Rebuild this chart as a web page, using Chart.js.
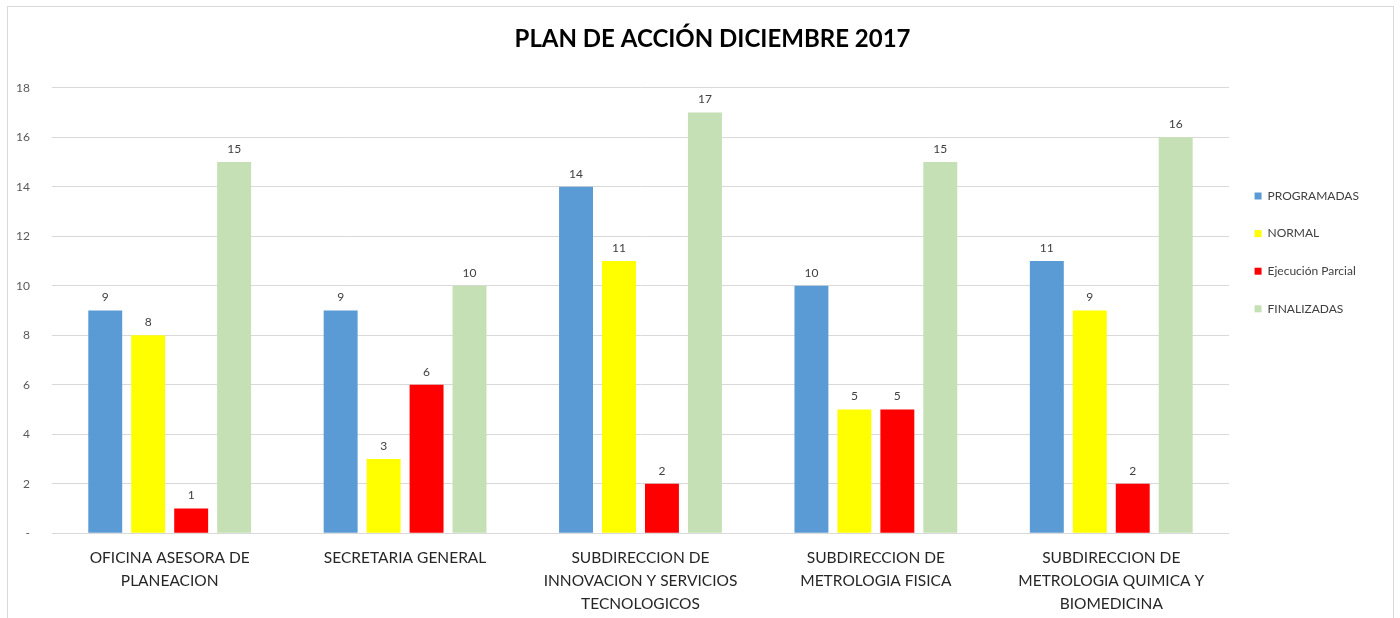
<!DOCTYPE html>
<html>
<head>
<meta charset="utf-8">
<script src="https://cdn.jsdelivr.net/npm/chart.js@4.4.0/dist/chart.umd.min.js"></script>
<style>
  html, body { margin: 0; padding: 0; background: #fff; }
  body { width: 1400px; height: 618px; overflow: hidden; position: relative; }
  #frame {
    position: absolute; left: 7px; top: 6px; width: 1385px; height: 624px;
    border: 1px solid #d9d9d9; background: #fff;
  }
  #chart { display: block; }
</style>
</head>
<body>
<div id="frame"><canvas id="chart" width="1385" height="621"></canvas></div>
<script>
const categorias = [
  ['OFICINA ASESORA DE', 'PLANEACION'],
  ['SECRETARIA GENERAL'],
  ['SUBDIRECCION DE', 'INNOVACION Y SERVICIOS', 'TECNOLOGICOS'],
  ['SUBDIRECCION DE', 'METROLOGIA FISICA'],
  ['SUBDIRECCION DE', 'METROLOGIA QUIMICA Y', 'BIOMEDICINA']
];
const programadas = [9, 9, 14, 10, 11];
const normal = [8, 3, 11, 5, 9];
const ejecucionParcial = [1, 6, 2, 5, 2];
const finalizadas = [15, 10, 17, 15, 16];
const ticksY = [0, 2, 4, 6, 8, 10, 12, 14, 16, 18];

const fuente = 'Lato, "Open Sans", sans-serif';

// etiquetas de valor encima de cada barra
const etiquetasValor = {
  id: 'etiquetasValor',
  afterDatasetsDraw(chart) {
    const ctx = chart.ctx;
    ctx.save();
    ctx.font = '12px ' + fuente;
    ctx.fillStyle = '#404040';
    ctx.textAlign = 'center';
    ctx.textBaseline = 'bottom';
    chart.data.datasets.forEach((ds, i) => {
      chart.getDatasetMeta(i).data.forEach((bar, j) => {
        ctx.fillText(ds.data[j], bar.x, bar.y - 7);
      });
    });
    ctx.restore();
  }
};

// el título de Excel queda algo a la derecha del centro
const moverTitulo = {
  id: 'moverTitulo',
  afterLayout(chart) {
    chart.titleBlock.left += 20;
    chart.titleBlock.right += 20;
  }
};

new Chart(document.getElementById('chart'), {
  type: 'bar',
  data: {
    labels: categorias,
    datasets: [
      { label: 'PROGRAMADAS', data: programadas, backgroundColor: '#5B9BD5' },
      { label: 'NORMAL', data: normal, backgroundColor: '#FFFF00' },
      { label: 'Ejecución Parcial', data: ejecucionParcial, backgroundColor: '#FF0000' },
      { label: 'FINALIZADAS', data: finalizadas, backgroundColor: '#C5E0B4' }
    ]
  },
  options: {
    responsive: false,
    animation: false,
    categoryPercentage: 0.73,
    barPercentage: 0.79,
    layout: { padding: { left: 8, right: 24, top: 8, bottom: 0 } },
    plugins: {
      title: {
        display: true,
        text: 'PLAN DE ACCIÓN DICIEMBRE 2017',
        color: '#000',
        font: { family: fuente, size: 24, weight: 'bold' },
        padding: { top: 10, bottom: 34 }
      },
      legend: {
        position: 'right',
        align: 'start',
        // título vacío solo para bajar las entradas de la leyenda
        title: {
          display: true,
          text: ' ',
          font: { family: fuente, size: 12 },
          padding: { top: 135, bottom: 0 }
        },
        labels: {
          boxWidth: 7,
          boxHeight: 7,
          padding: 25.6,
          color: '#404040',
          font: { family: fuente, size: 12 }
        }
      },
      tooltip: { enabled: false }
    },
    scales: {
      x: {
        grid: { display: false, drawTicks: false },
        border: { display: true, color: '#d9d9d9' },
        afterFit: (scale) => { scale.paddingLeft = 0; scale.paddingRight = 0; },
        ticks: {
          color: '#262626',
          font: { family: fuente, size: 15.5, lineHeight: 1.48 },
          padding: 13,
          maxRotation: 0,
          autoSkip: false
        }
      },
      y: {
        min: 0,
        max: 18,
        afterBuildTicks: (axis) => { axis.ticks = ticksY.map(v => ({ value: v })); },
        afterFit: (scale) => { scale.width = 36; },
        grid: { color: '#d9d9d9', drawTicks: false },
        border: { display: false },
        ticks: {
          color: '#595959',
          font: { family: fuente, size: 12 },
          padding: 22,
          callback: (v) => v === 0 ? '-' : v
        }
      }
    }
  },
  plugins: [etiquetasValor, moverTitulo]
});
</script>
</body>
</html>
